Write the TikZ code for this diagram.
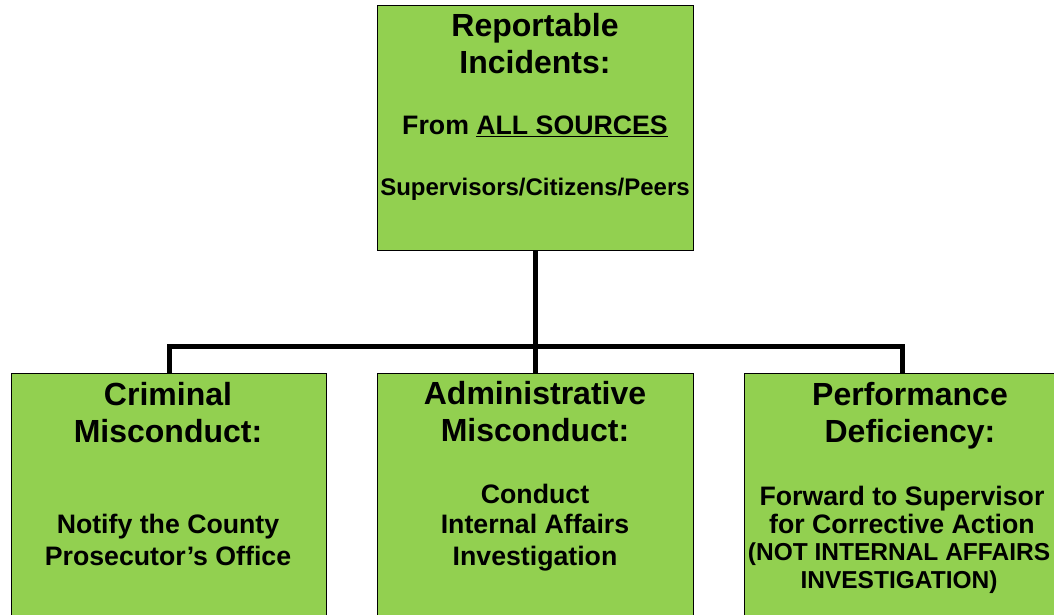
\documentclass[tikz,border=0pt]{standalone}
\usepackage{fontspec}
\setmainfont{Liberation Sans}
\definecolor{boxgreen}{HTML}{92D050}
\begin{document}
\begin{tikzpicture}[x=1pt,y=-1pt,
  box/.style={draw=black, line width=1.3pt, fill=boxgreen, inner sep=0pt, anchor=north west, minimum width=316pt},
  ttl/.style={anchor=base, inner sep=0pt, font=\bfseries\fontsize{32}{37}\selectfont},
  bdy/.style={anchor=base, inner sep=0pt, font=\bfseries\fontsize{26.7}{31}\selectfont},
  sml/.style={anchor=base, inner sep=0pt, font=\bfseries\fontsize{24}{28}\selectfont},
  nts/.style={anchor=base, inner sep=0pt, font=\bfseries\fontsize{24.5}{28}\selectfont},
  conn/.style={draw=black, line width=5pt}]
\clip (0,0) rectangle (1054,615);
\fill[white] (0,0) rectangle (1054,615);
% boxes
\node[box, minimum height=245pt] (top) at (377,5) {};
\node[box, minimum height=280pt, minimum width=315pt] (left) at (11,373) {};
\node[box, minimum height=280pt] (mid) at (377,373) {};
\node[box, minimum height=280pt, minimum width=330pt] (right) at (744,373) {};
% connectors
\coordinate (bus) at (535.5,346);
\coordinate (rdrop) at (902,373);
\draw[conn] (top.south) -- (mid.north);
\draw[conn] (left.north) |- (bus) -| (rdrop);
% top text
\node[ttl] (t1) at (535,37) {Reportable};
\node[ttl] (t2) at (535,74) {Incidents:};
\node[bdy] (t3) at (535,135) {From \underline{ALL SOURCES}};
\node[sml] (t4) at (535,195) {Supervisors/Citizens/Peers};
% left text
\node[ttl] (l1) at (168,405) {Criminal};
\node[ttl] (l2) at (168,442) {Misconduct:};
\node[bdy] (l3) at (168,533) {Notify the County};
\node[bdy] (l4) at (168,565) {Prosecutor’s Office};
% middle text
\node[ttl] (m1) at (535,404) {Administrative};
\node[ttl] (m2) at (535,441) {Misconduct:};
\node[bdy] (m3) at (535,503) {Conduct};
\node[bdy] (m4) at (535,533) {Internal Affairs};
\node[bdy] (m5) at (535,565) {Investigation};
% right text
\node[ttl] (r1) at (910,405) {Performance};
\node[ttl] (r2) at (910,442) {Deficiency:};
\node[bdy] (r3) at (902,505) {Forward to Supervisor};
\node[bdy] (r4) at (902,533) {for Corrective Action};
\node[nts] (r5) at (899,560) {(NOT INTERNAL AFFAIRS};
\node[nts] (r6) at (899,588) {INVESTIGATION)};
\end{tikzpicture}
\end{document}
